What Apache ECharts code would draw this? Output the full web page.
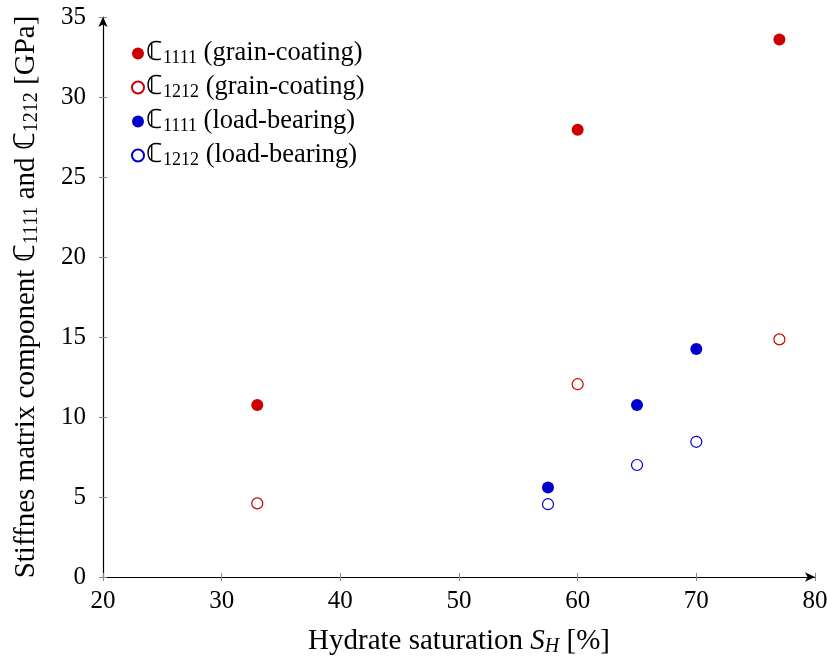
<!DOCTYPE html>
<html>
<head>
<meta charset="utf-8">
<script src="https://cdn.jsdelivr.net/npm/echarts@6/dist/echarts.min.js"></script>
<style>
  html, body { margin: 0; padding: 0; background: #fff; }
  #chart { width: 827px; height: 662px; }
</style>
</head>
<body>
<div id="chart"></div>
<script>
// data: [hydrate saturation %, stiffness GPa]
var grainC1111 = [[33, 10.75], [60, 27.95], [77, 33.6]];
var grainC1212 = [[33, 4.6], [60, 12.05], [77, 14.85]];
var loadC1111 = [[57.5, 5.6], [65, 10.75], [70, 14.25]];
var loadC1212 = [[57.5, 4.55], [65, 7.0], [70, 8.45]];
var xTicks = [20, 30, 40, 50, 60, 70, 80];
var yTicks = [0, 5, 10, 15, 20, 25, 30, 35];

var RED = '#cc0000';
var BLUE = '#0000cc';
var serif = 'Liberation Serif';

var rich = {
  n: { fontFamily: serif, fontSize: 29, color: '#000' },
  s: { fontFamily: serif, fontSize: 20, color: '#000', padding: [11, 0, 0, 0] },
  i: { fontFamily: serif, fontSize: 29, fontStyle: 'italic', color: '#000' },
  si: { fontFamily: serif, fontSize: 20, fontStyle: 'italic', color: '#000', padding: [11, 0, 0, 0] }
};
var legendRich = {
  n: { fontFamily: serif, fontSize: 26.5, color: '#000' },
  s: { fontFamily: serif, fontSize: 18, color: '#000', padding: [9, 0, 0, 0] }
};

var names = [
  'ℂ|1111| (grain-coating)',
  'ℂ|1212| (grain-coating)',
  'ℂ|1111| (load-bearing)',
  'ℂ|1212| (load-bearing)'
];

function fmtName(n) {
  var p = n.split('|');
  return '{n|' + p[0] + '}{s|' + p[1] + '}{n|' + p[2] + '}';
}

var chart = echarts.init(document.getElementById('chart'));

var baseX = {
  type: 'value', min: xTicks[0], max: xTicks[xTicks.length - 1], interval: 10
};
var baseY = {
  type: 'value', min: yTicks[0], max: yTicks[yTicks.length - 1], interval: 5
};

var option = {
  animation: false,
  backgroundColor: '#fff',
  grid: { left: 103, right: 12, top: 17, bottom: 85, outerBoundsMode: 'none', containLabel: false },
  legend: {
    orient: 'vertical',
    left: 126,
    top: 35,
    itemWidth: 12,
    itemHeight: 12,
    itemGap: 7,
    icon: 'circle',
    formatter: fmtName,
    textStyle: { rich: legendRich, padding: [0, 0, 0, -3] },
    data: names
  },
  xAxis: [
    Object.assign({}, baseX, {
      name: '{n|Hydrate saturation }{i|S}{si|H}{n| [%]}',
      nameLocation: 'middle',
      nameGap: 49,
      nameTextStyle: { rich: rich },
      axisLine: { lineStyle: { color: '#000', width: 1.2 }, symbol: ['none', 'arrow'], symbolSize: [7, 10] },
      axisTick: { show: true, length: 4, lineStyle: { color: '#888' } },
      axisLabel: { fontFamily: serif, fontSize: 25, color: '#000', margin: 12 },
      splitLine: { show: false }
    }),
    Object.assign({}, baseX, {
      position: 'bottom',
      axisLine: { show: false },
      axisTick: { show: true, inside: true, length: 4, lineStyle: { color: '#888' } },
      axisLabel: { show: false },
      splitLine: { show: false }
    })
  ],
  yAxis: [
    Object.assign({}, baseY, {
      name: '{n|Stiffnes matrix component ℂ}{s|1111}{n| and ℂ}{s|1212}{n| [GPa]}',
      nameLocation: 'middle',
      nameGap: 61,
      nameRotate: 90,
      nameTextStyle: { rich: rich },
      axisLine: { show: true, lineStyle: { color: '#000', width: 1.2 }, symbol: ['none', 'arrow'], symbolSize: [7, 10] },
      axisTick: { show: true, length: 4, lineStyle: { color: '#888' } },
      axisLabel: { fontFamily: serif, fontSize: 25, color: '#000', margin: 17 },
      splitLine: { show: false }
    }),
    Object.assign({}, baseY, {
      position: 'left',
      axisLine: { show: false },
      axisTick: { show: true, inside: true, length: 4, lineStyle: { color: '#888' } },
      axisLabel: { show: false },
      splitLine: { show: false }
    })
  ],
  series: [
    {
      name: names[0], type: 'scatter', data: grainC1111, symbolSize: 12,
      itemStyle: { color: RED, borderColor: RED, borderWidth: 0, opacity: 1 }
    },
    {
      name: names[1], type: 'scatter', data: grainC1212, symbolSize: 11,
      itemStyle: { color: '#fff', borderColor: RED, borderWidth: 1.2, opacity: 1 }
    },
    {
      name: names[2], type: 'scatter', data: loadC1111, symbolSize: 12,
      itemStyle: { color: BLUE, borderColor: BLUE, borderWidth: 0, opacity: 1 }
    },
    {
      name: names[3], type: 'scatter', data: loadC1212, symbolSize: 11,
      itemStyle: { color: '#fff', borderColor: BLUE, borderWidth: 1.2, opacity: 1 }
    }
  ]
};

chart.setOption(option);
</script>
</body>
</html>
